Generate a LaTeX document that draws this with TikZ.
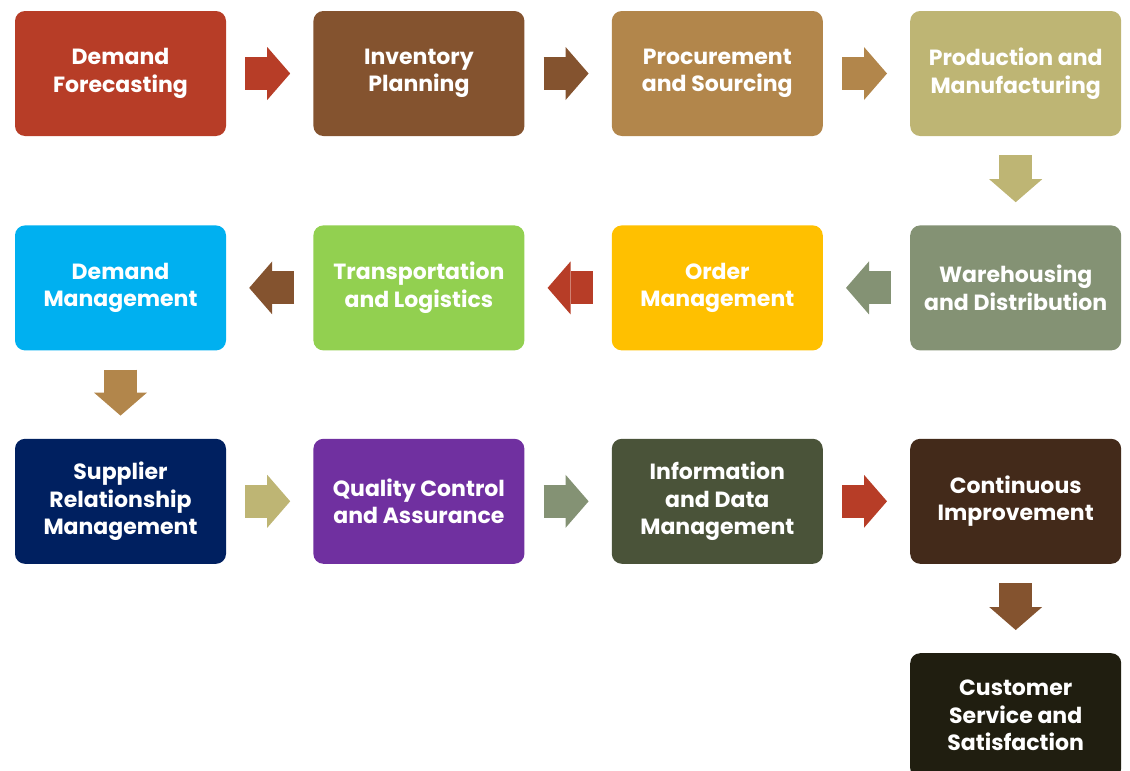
\documentclass[tikz,border=0pt]{standalone}
\usepackage{fontspec}
\setmainfont{Poppins}
\usetikzlibrary{positioning,arrows.meta}

\definecolor{cRed}{HTML}{B73D27}
\definecolor{cBrown}{HTML}{84532F}
\definecolor{cTan}{HTML}{B2864B}
\definecolor{cKhaki}{HTML}{BEB574}
\definecolor{cSage}{HTML}{849274}
\definecolor{cGold}{HTML}{FFC000}
\definecolor{cLime}{HTML}{92D050}
\definecolor{cSky}{HTML}{00B0F0}
\definecolor{cNavy}{HTML}{002060}
\definecolor{cPurple}{HTML}{7030A0}
\definecolor{cOlive}{HTML}{4A5339}
\definecolor{cCoffee}{HTML}{432A1A}
\definecolor{cInk}{HTML}{201E10}

\tikzstyle{box}=[rectangle, rounded corners=10pt, minimum width=211pt, minimum height=125pt,
  inner sep=0pt, align=center, text=white, font=\fontsize{22}{27.5}\selectfont\bfseries]
\tikzstyle{flow}=[line width=33pt, shorten <=19pt, shorten >=23pt,
  -{Triangle[width=53pt, length=23pt, line width=0pt]}]

\begin{document}
\begin{tikzpicture}[x=1pt, y=-1pt, node distance=87pt and 87pt]
  \useasboundingbox (0,0) rectangle (1130,771);

  % first row, left to right
  \node [box, fill=cRed] (fore) at (120.5,73.5) {Demand\\Forecasting};
  \node [box, fill=cBrown, right=of fore] (inv) {Inventory\\Planning};
  \node [box, fill=cTan, right=of inv] (proc) {Procurement\\and Sourcing};
  \node [box, fill=cKhaki, right=of proc] (prod) {Production and\\Manufacturing};

  % second row, right to left
  \node [box, fill=cSage, below=89pt of prod] (ware) {Warehousing\\and Distribution};
  \node [box, fill=cGold, left=of ware] (order) {Order\\Management};
  \node [box, fill=cLime, left=of order] (trans) {Transportation\\and Logistics};
  \node [box, fill=cSky, left=of trans] (dmgt) {Demand\\Management};

  % third row, left to right
  \node [box, fill=cNavy, below=88pt of dmgt] (supp) {Supplier\\Relationship\\Management};
  \node [box, fill=cPurple, right=of supp] (qual) {Quality Control\\and Assurance};
  \node [box, fill=cOlive, right=of qual] (info) {Information\\and Data\\Management};
  \node [box, fill=cCoffee, right=of info] (cont) {Continuous\\Improvement};

  \node [box, fill=cInk, below=89pt of cont] (cust) {Customer\\Service and\\Satisfaction};

  \draw [flow, cRed] (fore) -- (inv);
  \draw [flow, cBrown] (inv) -- (proc);
  \draw [flow, cTan] (proc) -- (prod);
  \draw [flow, cKhaki] (prod) -- (ware);
  \draw [flow, cSage] (ware) -- (order);
  \draw [flow, cRed] (order) -- (trans);
  \draw [flow, cBrown] (trans) -- (dmgt);
  \draw [flow, cTan] (dmgt) -- (supp);
  \draw [flow, cKhaki] (supp) -- (qual);
  \draw [flow, cSage] (qual) -- (info);
  \draw [flow, cRed] (info) -- (cont);
  \draw [flow, cBrown] (cont) -- (cust);
\end{tikzpicture}
\end{document}
